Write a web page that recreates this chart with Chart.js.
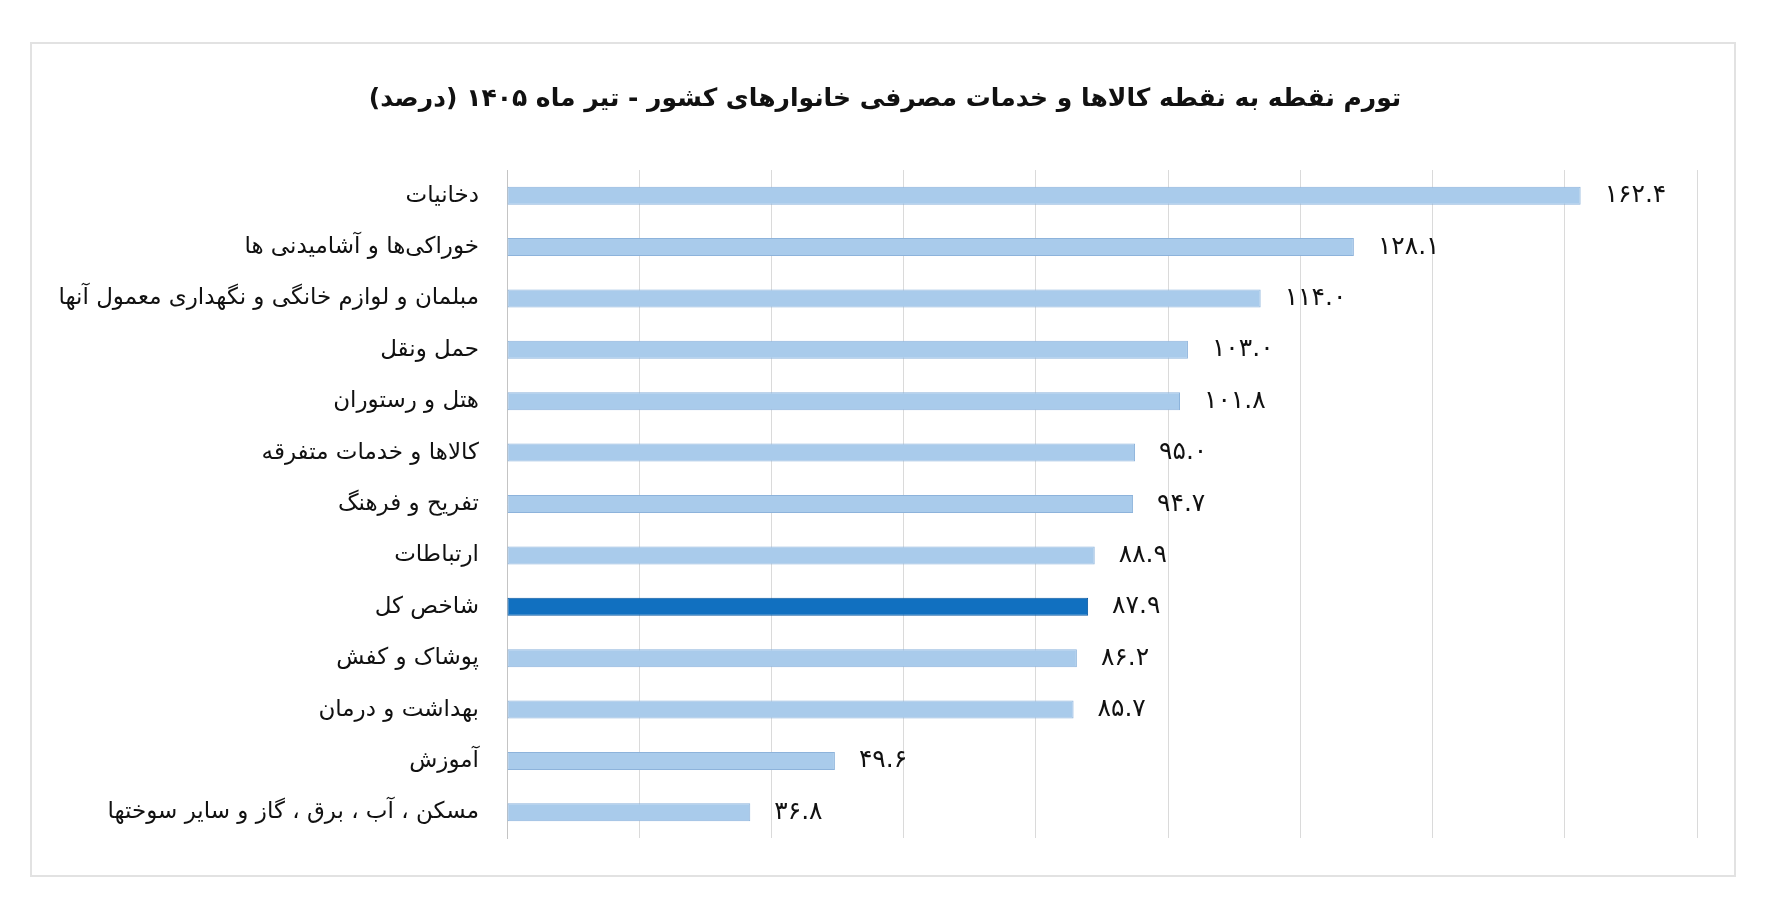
<!DOCTYPE html>
<html>
<head>
<meta charset="utf-8">
<style>
  body { margin: 0; background: #fff; }
</style>
</head>
<body>
<!-- canvas for the chart, rtl so persian text shapes and orders right -->
<canvas id="myChart" width="1772" height="906" dir="rtl"></canvas>
<script src="https://cdn.jsdelivr.net/npm/chart.js@4.4.1/dist/chart.umd.min.js"></script>
<script>
    // categories top to bottom
    const categories = [
        'دخانیات',
        'خوراکی‌ها و آشامیدنی ها',
        'مبلمان و لوازم خانگی و نگهداری معمول آنها',
        'حمل ونقل',
        'هتل و رستوران',
        'کالاها و خدمات متفرقه',
        'تفریح و فرهنگ',
        'ارتباطات',
        'شاخص کل',
        'پوشاک و کفش',
        'بهداشت و درمان',
        'آموزش',
        'مسکن ، آب ، برق ، گاز و سایر سوختها'
    ]
    // point to point inflation, percent
    const inflation = [162.4, 128.1, 114.0, 103.0, 101.8, 95.0, 94.7, 88.9, 87.9, 86.2, 85.7, 49.6, 36.8]
    // the total index bar is highlighted
    const highlight = 'شاخص کل'
    const xMin = 0
    const xMax = 180
    const xStep = 20
    const chartTitle = 'تورم نقطه به نقطه کالاها و خدمات مصرفی خانوارهای کشور - تیر ماه ۱۴۰۵ (درصد)'

    // western digits -> persian digits, keep the dot
    function toPersian(str) {
        const fa = '۰۱۲۳۴۵۶۷۸۹'
        return String(str).replace(/[0-9]/g, d => fa[d])
    }

    const fillColors = categories.map(c => c === highlight ? '#1170c0' : '#a9cbeb')
    const edgeColors = categories.map(c => c === highlight ? '#0b5aa3' : '#8db3db')

    // frame and white background
    const framePlugin = {
        id: 'frame',
        beforeDraw(chart) {
            const ctx = chart.ctx
            ctx.save()
            ctx.fillStyle = '#fff'
            ctx.fillRect(0, 0, chart.width, chart.height)
            ctx.strokeStyle = '#e2e2e2'
            ctx.lineWidth = 2
            ctx.strokeRect(31, 43, 1704, 833)
            ctx.restore()
        }
    }

    // value labels right of each bar
    const valueLabels = {
        id: 'valueLabels',
        afterDatasetsDraw(chart) {
            const ctx = chart.ctx
            const meta = chart.getDatasetMeta(0)
            ctx.save()
            ctx.font = '25px "DejaVu Sans"'
            ctx.fillStyle = '#111'
            ctx.textAlign = 'left'
            ctx.textBaseline = 'middle'
            ctx.direction = 'ltr'
            meta.data.forEach((bar, i) => {
                ctx.fillText(toPersian(inflation[i].toFixed(1)), bar.x + 24, bar.y)
            })
            ctx.restore()
        }
    }

    // persian title, drawn centred over the frame
    const titlePlugin = {
        id: 'faTitle',
        afterDraw(chart) {
            const ctx = chart.ctx
            ctx.save()
            ctx.font = 'bold 25px "DejaVu Sans"'
            ctx.fillStyle = '#111'
            ctx.textAlign = 'center'
            ctx.textBaseline = 'middle'
            ctx.direction = 'rtl'
            ctx.fillText(chartTitle, 885, 99)
            ctx.restore()
        }
    }

    const ctx = document.getElementById('myChart')
    const myChart = new Chart(ctx, {
        type: 'bar',
        data: {
            labels: categories,
            datasets: [{
                data: inflation,
                backgroundColor: fillColors,
                borderColor: edgeColors,
                borderWidth: 1,
                borderSkipped: false,
                barPercentage: 0.35,
                categoryPercentage: 1
            }]
        },
        options: {
            indexAxis: 'y',
            responsive: false,
            animation: false,
            devicePixelRatio: 1,
            layout: {
                padding: { left: 20, right: 75, top: 170, bottom: 68 }
            },
            plugins: {
                legend: { display: false },
                tooltip: { enabled: false },
                title: { display: false }
            },
            scales: {
                x: {
                    min: xMin,
                    max: xMax,
                    ticks: { display: false, stepSize: xStep },
                    grid: { color: '#dadada', lineWidth: 1, drawTicks: false },
                    border: { display: false },
                    afterFit(scale) { scale.height = 0 }
                },
                y: {
                    grid: { display: false, drawTicks: false },
                    border: { display: true, color: '#c4c4c4', width: 1 },
                    ticks: {
                        padding: 28,
                        color: '#111',
                        font: { family: '"DejaVu Sans"', size: 23 }
                    },
                    afterFit(scale) { scale.width = 487 }
                }
            }
        },
        plugins: [framePlugin, valueLabels, titlePlugin]
    });
</script>
</body>
</html>
